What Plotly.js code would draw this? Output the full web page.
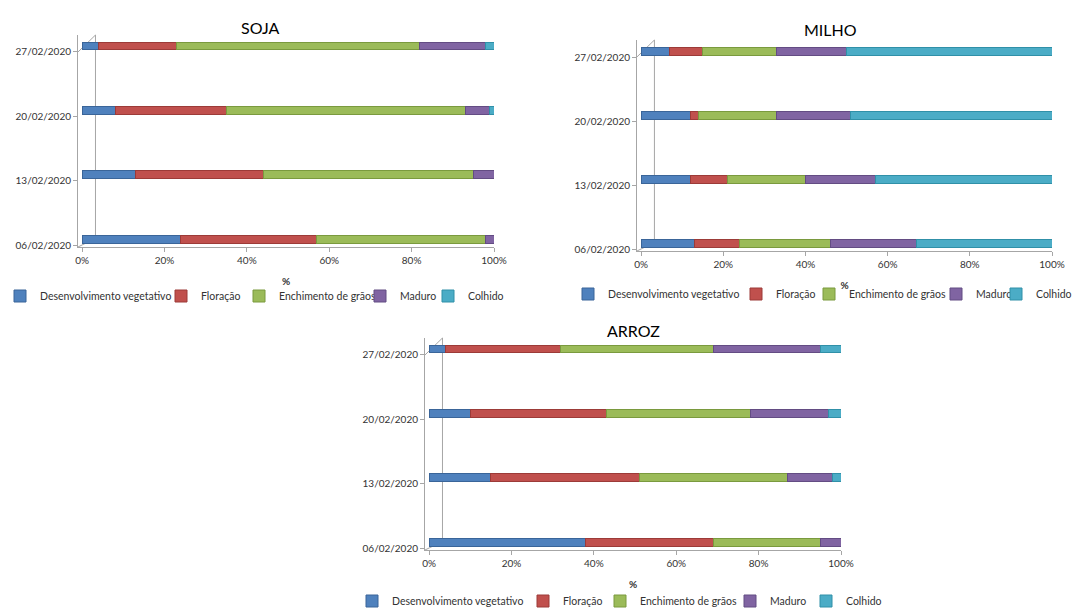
<!DOCTYPE html>
<html><head><meta charset="utf-8">
<script src="https://cdn.plot.ly/plotly-3.0.1.min.js"></script>
<style>html,body{margin:0;padding:0;background:#fff;}#chart{width:1080px;height:608px;}</style>
</head><body><div id="chart"></div>
<script>
const dates = ['06/02/2020','13/02/2020','20/02/2020','27/02/2020'];
const seriesNames = ['Desenvolvimento vegetativo','Floração','Enchimento de grãos','Maduro','Colhido'];
const seriesColors = ['#4F81BD','#C0504D','#9BBB59','#8064A2','#4BACC6'];
const seriesLines = ['#3A6599','#9C3B38','#7A9A3E','#634C83','#3090A8'];
const xTickVals = [0,20,40,60,80,100];
const xTickLabels = ['0%','20%','40%','60%','80%','100%'];

// SOJA
const sojaDesenvolvimento = [24,13,8,4];
const sojaFloracao = [33,31,27,19];
const sojaEnchimento = [41,51,58,59];
const sojaMaduro = [2,5,6,16];
const sojaColhido = [0,0,1,2];
// MILHO
const milhoDesenvolvimento = [13,12,12,7];
const milhoFloracao = [11,9,2,8];
const milhoEnchimento = [22,19,19,18];
const milhoMaduro = [21,17,18,17];
const milhoColhido = [33,43,49,50];
// ARROZ
const arrozDesenvolvimento = [38,15,10,4];
const arrozFloracao = [31,36,33,28];
const arrozEnchimento = [26,36,35,37];
const arrozMaduro = [5,11,19,26];
const arrozColhido = [0,2,3,5];

const W = 1080, H = 608;
// legend entry layout (pixel text start of each entry, row centre)
const charts = [
  {title:'SOJA', data:[sojaDesenvolvimento,sojaFloracao,sojaEnchimento,sojaMaduro,sojaColhido], xa:'x', ya:'y',
   legX:[40,201,279,400,468], legY:296},
  {title:'MILHO', data:[milhoDesenvolvimento,milhoFloracao,milhoEnchimento,milhoMaduro,milhoColhido], xa:'x2', ya:'y2',
   legX:[608,776,849,976,1036], legY:294},
  {title:'ARROZ', data:[arrozDesenvolvimento,arrozFloracao,arrozEnchimento,arrozMaduro,arrozColhido], xa:'x3', ya:'y3',
   legX:[392,563,640,770,846], legY:601}
];

const FONT = 'Lato, "Open Sans", sans-serif';
const traces = [];
const legends = {};
let li = 0;
charts.forEach(c => {
  c.data.forEach((vals, i) => {
    li++;
    const key = li === 1 ? 'legend' : 'legend' + li;
    traces.push({
      type:'bar', orientation:'h', name:seriesNames[i], x:vals, y:dates,
      xaxis:c.xa, yaxis:c.ya, legend:key,
      width:0.12, offset:0.03,
      marker:{color:seriesColors[i], line:{color:seriesLines[i], width:1}},
      hoverinfo:'x+name'
    });
    legends[key] = {orientation:'h', x:(c.legX[i]-40)/W, y:1-c.legY/H, xanchor:'left', yanchor:'middle',
      font:{size:10.5, color:'#333', family:FONT}, bgcolor:'rgba(0,0,0,0)', itemwidth:30, borderwidth:0};
  });
});

function xAxis(domain, anchor){
  return {domain:domain, anchor:anchor, range:[-1,100], tickvals:xTickVals, ticktext:xTickLabels,
    showgrid:false, zeroline:false, showline:true, linecolor:'#A6A6A6', linewidth:1,
    ticks:'outside', ticklen:4, tickcolor:'#A6A6A6', tickfont:{size:10, color:'#333', family:FONT},
    title:{text:'<b>%</b>', font:{size:10, color:'#333', family:FONT}, standoff:13}, fixedrange:true, automargin:false};
}
function yAxis(domain, anchor, top){
  return {domain:domain, anchor:anchor, type:'category', range:[-0.03, top],
    showgrid:false, zeroline:false, showline:true, linecolor:'#A6A6A6', linewidth:1,
    ticks:'outside', ticklen:4, tickcolor:'#A6A6A6', tickfont:{size:10, color:'#333', family:FONT}, fixedrange:true, automargin:false};
}
function wallShapes(xr, yr){
  const ln = {color:'#A6A6A6', width:1};
  return [
    {type:'line', layer:'below', xref:xr+' domain', yref:yr+' domain', x0:0.042, x1:0.042, y0:0.04, y1:1, line:ln},
    {type:'line', layer:'below', xref:xr+' domain', yref:yr+' domain', x0:0, x1:0.042, y0:0.92, y1:1, line:ln},
    {type:'line', layer:'below', xref:xr+' domain', yref:yr+' domain', x0:0, x1:0.042, y0:0, y1:0.04, line:ln}
  ];
}
function titleAnn(text, px, py){
  return {text:text, x:px/W, y:1-py/H, xref:'paper', yref:'paper', xanchor:'center', yanchor:'middle',
    showarrow:false, font:{size:16, color:'#000', family:FONT}};
}

const layout = Object.assign({
  width:W, height:H, margin:{l:0,r:0,t:0,b:0, autoexpand:false},
  paper_bgcolor:'#fff', plot_bgcolor:'rgba(0,0,0,0)', barmode:'stack', bargap:0,
  font:{family:FONT}, showlegend:true,
  xaxis: xAxis([78/W,494/W],'y'),
  yaxis: yAxis([0.5938,0.9424],'x',3.26),
  xaxis2: xAxis([637/W,1052/W],'y2'),
  yaxis2: yAxis([0.5872,0.9342],'x2',3.27),
  xaxis3: xAxis([425/W,841/W],'y3'),
  yaxis3: yAxis([0.0954,0.4441],'x3',3.26),
  shapes: [].concat(wallShapes('x','y'), wallShapes('x2','y2'), wallShapes('x3','y3')),
  annotations: [titleAnn('SOJA',260,27), titleAnn('MILHO',830,30), titleAnn('ARROZ',633,330)]
}, legends);
Plotly.newPlot('chart', traces, layout, {displayModeBar:false, staticPlot:true});
</script></body></html>
